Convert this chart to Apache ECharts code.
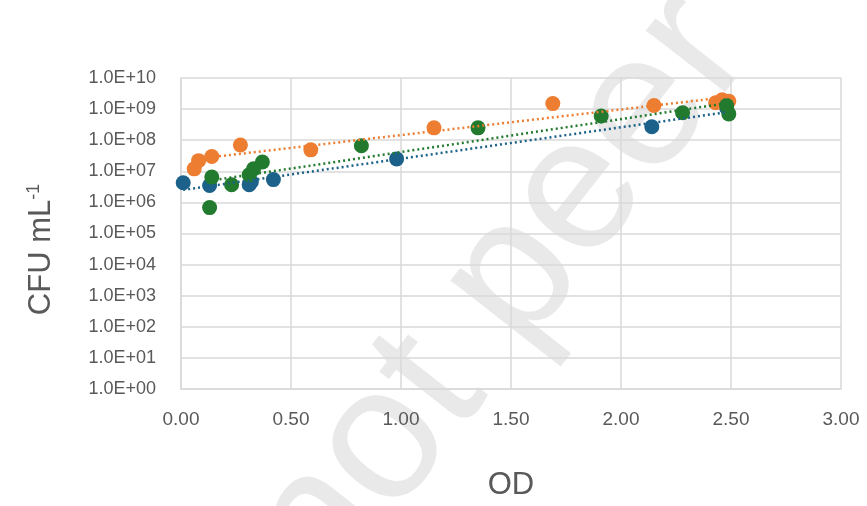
<!DOCTYPE html>
<html>
<head>
<meta charset="utf-8">
<script src="https://cdn.jsdelivr.net/npm/echarts@6/dist/echarts.min.js"></script>
<style>
  html, body { margin: 0; padding: 0; background: #fff; }
  #chart { width: 867px; height: 506px; }
</style>
</head>
<body>
<div id="chart"></div>
<script>
// OD readings and plate counts for each strain
var blueX = [0.01, 0.13, 0.31, 0.32, 0.42, 0.98, 2.14, 2.48];
var blueY = [4.3e6, 3.5e6, 3.7e6, 4.6e6, 5.4e6, 2.5e7, 2.7e8, 1.1e9];

var orangeX = [0.06, 0.08, 0.14, 0.27, 0.59, 1.15, 1.69, 2.15, 2.43, 2.46, 2.49];
var orangeY = [1.2e7, 2.2e7, 3.0e7, 7.0e7, 4.9e7, 2.5e8, 1.5e9, 1.3e9, 1.6e9, 2.0e9, 1.8e9];

var greenX = [0.13, 0.14, 0.23, 0.31, 0.33, 0.37, 0.82, 1.35, 1.91, 2.28, 2.48, 2.49];
var greenY = [6.8e5, 6.5e6, 3.7e6, 7.7e6, 1.2e7, 2.0e7, 6.6e7, 2.5e8, 6.0e8, 7.6e8, 1.3e9, 7.0e8];

var colors = { blue: '#1c6189', orange: '#ed7d31', green: '#227a2f' };
var font = 'Liberation Sans, Arial, sans-serif';

function pairs(xs, ys) {
    return xs.map(function (x, i) { return [x, ys[i]]; });
}

// exponential trendline: least squares on log10(y)
function expTrend(xs, ys) {
    var n = xs.length, sx = 0, sy = 0, sxx = 0, sxy = 0;
    for (var i = 0; i < n; i++) {
        var ly = Math.log10(ys[i]);
        sx += xs[i]; sy += ly; sxx += xs[i] * xs[i]; sxy += xs[i] * ly;
    }
    var b = (n * sxy - sx * sy) / (n * sxx - sx * sx);
    var a = (sy - b * sx) / n;
    var x0 = Math.min.apply(null, xs), x1 = Math.max.apply(null, xs);
    return [[x0, Math.pow(10, a + b * x0)], [x1, Math.pow(10, a + b * x1)]];
}

function pad2(n) { return (n < 10 ? '0' : '') + n; }

var chart = echarts.init(document.getElementById('chart'));

var groups = [['blue', blueX, blueY], ['orange', orangeX, orangeY], ['green', greenX, greenY]];
var series = [];
groups.forEach(function (s) {
    series.push({
        type: 'scatter',
        data: pairs(s[1], s[2]),
        symbolSize: 15,
        itemStyle: { color: colors[s[0]], opacity: 1 },
        z: 3
    });
});
groups.forEach(function (s) {
    series.push({
        type: 'line',
        data: expTrend(s[1], s[2]),
        symbol: 'none',
        lineStyle: { color: colors[s[0]], width: 2.5, type: [2, 3] },
        z: 4
    });
});

var option = {
    animation: false,
    textStyle: { fontFamily: font },
    graphic: [{
        type: 'text',
        x: 500, y: 295,
        rotation: 52 * Math.PI / 180,
        z: -10,
        silent: true,
        style: {
            text: 'not peer',
            fontSize: 190,
            fontFamily: font,
            fill: '#e9e9e9',
            align: 'center',
            verticalAlign: 'middle'
        }
    }],
    grid: { left: 181, right: 26, top: 78, bottom: 116 },
    xAxis: {
        type: 'value',
        min: 0, max: 3, interval: 0.5,
        name: 'OD',
        nameLocation: 'middle',
        nameGap: 81,
        nameTextStyle: { fontSize: 31, color: '#595959' },
        axisLine: { show: true, lineStyle: { color: '#d9d9d9', width: 1.5 } },
        axisTick: { show: false },
        axisLabel: {
            margin: 21, fontSize: 19, color: '#595959',
            formatter: function (v) { return v.toFixed(2); }
        },
        splitLine: { show: true, lineStyle: { color: '#d9d9d9', width: 1.5 } }
    },
    yAxis: {
        type: 'log',
        logBase: 10,
        min: 1, max: 1e10,
        interval: 1,
        name: '{a|CFU mL}{b|-1}',
        nameLocation: 'middle',
        nameGap: 124,
        nameRotate: 90,
        nameTextStyle: {
            padding: [0, 32, 0, 0],
            rich: {
                a: { fontSize: 31, color: '#595959', fontFamily: font },
                b: { fontSize: 18, color: '#595959', verticalAlign: 'top', padding: [0, 0, 14, 0], fontFamily: font }
            }
        },
        axisLine: { show: true, lineStyle: { color: '#d9d9d9', width: 1.5 } },
        axisTick: { show: false },
        axisLabel: {
            margin: 25, fontSize: 18, color: '#595959',
            formatter: function (v) { return '1.0E+' + pad2(Math.round(Math.log10(v))); }
        },
        splitLine: { show: true, lineStyle: { color: '#d9d9d9', width: 1.5 } }
    },
    series: series
};

chart.setOption(option);
</script>
</body>
</html>
